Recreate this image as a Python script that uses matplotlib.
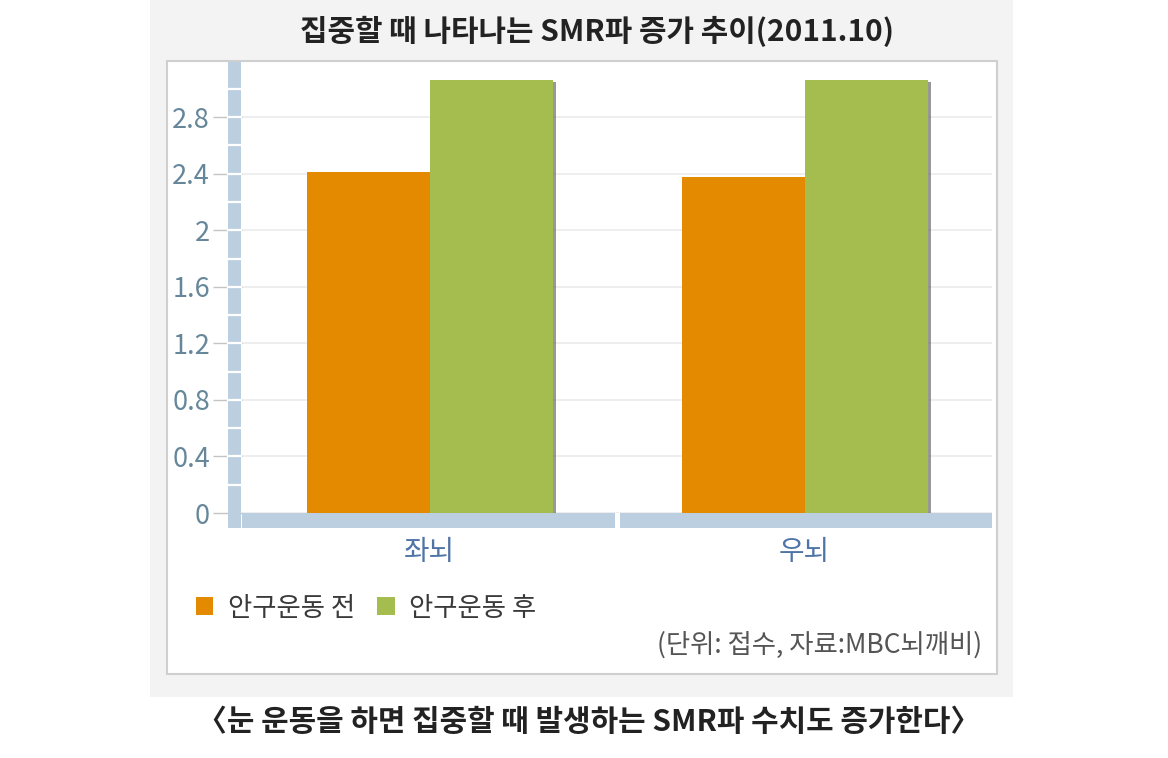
import matplotlib
matplotlib.use('Agg')
import matplotlib.pyplot as plt
import matplotlib.transforms as mtransforms
from matplotlib.patches import Rectangle

plt.rcParams['font.family'] = ['Noto Sans CJK KR', 'DejaVu Sans']

# data (단위: 접수)
categories = ['좌뇌', '우뇌']
series_names = ['안구운동 전', '안구운동 후']
before = [2.41, 2.38]
after = [3.06, 3.06]
yticks = [0, 0.4, 0.8, 1.2, 1.6, 2.0, 2.4, 2.8]
ytick_labels = ['0', '0.4', '0.8', '1.2', '1.6', '2', '2.4', '2.8']

title = '집중할 때 나타나는 SMR파 증가 추이(2011.10)'
caption = '〈눈 운동을 하면 집중할 때 발생하는 SMR파 수치도 증가한다〉'
note = '(단위: 접수, 자료:MBC뇌깨비)'

W, H = 1168, 758
fig = plt.figure(figsize=(W / 100, H / 100), dpi=100)
fig.patch.set_facecolor('white')


def fx(px):
    return px / W


def fy(py):
    return 1 - py / H


# gray panel and white frame
fig.patches.append(Rectangle((fx(150), fy(697)), fx(1013) - fx(150), fy(0) - fy(697),
                             transform=fig.transFigure, facecolor='#f3f3f3', edgecolor='none', zorder=-2))
fig.patches.append(Rectangle((fx(167), fy(674)), fx(997) - fx(167), fy(61) - fy(674),
                             transform=fig.transFigure, facecolor='white', edgecolor='#cfcfcf',
                             linewidth=1.5, zorder=-1))

ax = fig.add_axes([fx(242), fy(513), fx(992) - fx(242), fy(62) - fy(513)])
ax.set_zorder(1)
ax.set_facecolor('none')
ax.set_xlim(-0.5, 1.5)
ax.set_ylim(0, 3.19)

orange = '#e38a00'
green = '#a5bd4f'
bw = 0.328
xs = list(range(len(categories)))

# soft shadow on right side of bars
ax.bar([x + bw / 2 + 0.009 for x in xs], [v - 0.01 for v in after], bw, color='#6d6d6d',
       alpha=0.7, zorder=2)
ax.bar([x - bw / 2 for x in xs], before, bw, color=orange, label=series_names[0], zorder=3)
ax.bar([x + bw / 2 for x in xs], after, bw, color=green, label=series_names[1], zorder=3)

ax.set_yticks(yticks)
ax.set_yticklabels(ytick_labels)
ax.grid(axis='y', color='#ebebeb', linewidth=1.2, zorder=0)
ax.set_axisbelow(True)
for s in ax.spines.values():
    s.set_visible(False)
ax.tick_params(axis='y', length=21, color='#c4c4c4', width=1, pad=2,
               labelsize=19.5, labelcolor='#66879a')
ax.set_xticks(xs)
ax.set_xticklabels(categories)
ax.tick_params(axis='x', length=0, pad=17, labelsize=20, labelcolor='#4f74a6')

axis_blue = '#bccfe0'
# vertical axis band with white separators every 0.2
tr_y = mtransforms.blended_transform_factory(ax.transAxes, ax.transData)
bx0 = (228 - 242) / 750
bx1 = (241 - 242) / 750
ax.add_patch(Rectangle((bx0, -15 / 451 * 3.19), bx1 - bx0, 3.19 + 15 / 451 * 3.19,
                       transform=tr_y, facecolor=axis_blue, edgecolor='none',
                       clip_on=False, zorder=4))
for k in range(1, 16):
    ax.plot([bx0, bx1], [k * 0.2, k * 0.2], transform=tr_y, color='white',
            linewidth=1.6, clip_on=False, zorder=5)

# horizontal axis band split per category
tr_x = mtransforms.blended_transform_factory(ax.transData, ax.transAxes)
hb = 15 / 451
for x0, x1 in [(-0.5, 0.494), (0.508, 1.5)]:
    ax.add_patch(Rectangle((x0, -hb), x1 - x0, hb, transform=tr_x, facecolor=axis_blue,
                           edgecolor='none', clip_on=False, zorder=4))

leg = ax.legend(loc='center left', bbox_to_anchor=(fx(196), fy(608)),
                bbox_transform=fig.transFigure, ncol=2, frameon=False, fontsize=19,
                handlelength=0.66, handleheight=0.66, handletextpad=0.55,
                columnspacing=0.85, borderpad=0, borderaxespad=0)
for t in leg.get_texts():
    t.set_color('#3a3a3a')

fig.text(fx(982), fy(645), note, ha='right', va='center', fontsize=19, color='#555555')
fig.text(fx(597), fy(31), title, ha='center', va='center', fontsize=21.5, fontweight='bold',
         color='#222222')
fig.text(fx(589), fy(722), caption, ha='center', va='center', fontsize=21.5,
         fontweight='bold', color='#222222')

fig.savefig('out.png', dpi=100, facecolor=fig.get_facecolor())
